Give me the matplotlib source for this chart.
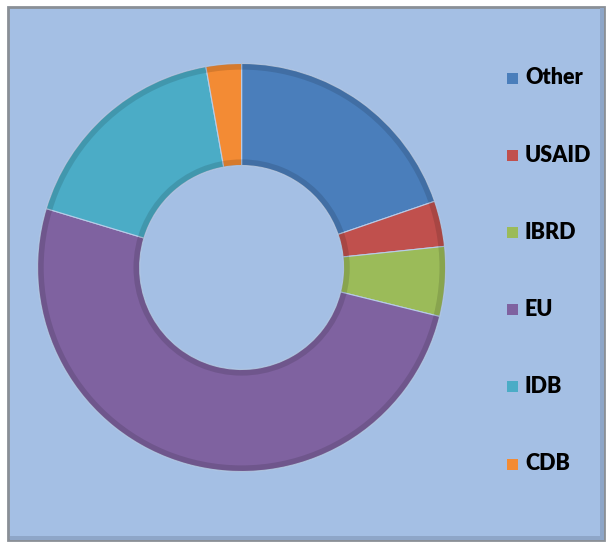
import matplotlib.pyplot as plt
from matplotlib.patches import Rectangle

labels = ['Other', 'USAID', 'IBRD', 'EU', 'IDB', 'CDB']
shares = [19.7, 3.6, 5.5, 50.7, 17.5, 2.8]
colors = ['#4A7EBB', '#C0504D', '#9BBB59', '#7F62A0', '#4BACC6', '#F38B34']

W, H = 611, 548
bg = '#A4BFE4'

fig = plt.figure(figsize=(W / 100, H / 100), dpi=100)
fig.patch.set_facecolor('white')

# chart frame
fig.patches.append(Rectangle((8 / W, 8 / H), 596 / W, 533 / H, transform=fig.transFigure,
                             facecolor=bg, edgecolor='#8A8F96', linewidth=2, zorder=-2))
fig.patches.append(Rectangle((600 / W, 10 / H), 4 / W, 530 / H, transform=fig.transFigure,
                             facecolor='#8EA6C8', edgecolor='none', zorder=-1))
fig.patches.append(Rectangle((10 / W, 8 / H), 594 / W, 4 / H, transform=fig.transFigure,
                             facecolor='#8EA6C8', edgecolor='none', zorder=-1))

# donut
cx, cy, r = 241.6, 267.5, 204
ax = fig.add_axes([(cx - r) / W, (H - cy - r) / H, 2 * r / W, 2 * r / H])
ax.set_zorder(2)
ax.set_facecolor('none')
ax.pie(shares, colors=colors, startangle=90, counterclock=False, radius=1,
       wedgeprops=dict(width=0.5, edgecolor='#B8CCE8', linewidth=0.8))
# soft rim shading
ax.pie([1], radius=1,
       wedgeprops=dict(width=0.03, edgecolor='none', facecolor=(0, 0, 0, 0.12)))
ax.pie([1], radius=0.53,
       wedgeprops=dict(width=0.03, edgecolor='none', facecolor=(0, 0, 0, 0.12)))
ax.set_xlim(-1, 1)
ax.set_ylim(-1, 1)
ax.axis('off')

# legend
for i, (lab, col) in enumerate(zip(labels, colors)):
    y = 78 + 77.2 * i
    fig.patches.append(Rectangle((507 / W, (H - y - 5.5) / H), 11 / W, 11 / H,
                                 transform=fig.transFigure, facecolor=col,
                                 edgecolor='none', zorder=3))
    fig.text(525 / W, (H - y) / H, lab, fontfamily='Lato', fontweight='heavy',
             fontsize=15.5, va='center', ha='left', color='black')

fig.savefig('out.png', dpi=100)
